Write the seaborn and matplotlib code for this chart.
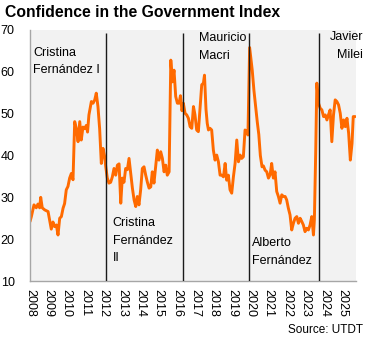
import matplotlib
matplotlib.use("Agg")
import matplotlib.pyplot as plt
import seaborn as sns
import pandas as pd
import numpy as np

title = "Confidence in the Government Index"
source = "Source: UTDT"
years = list(range(2008, 2026))
y_ticks = [10, 20, 30, 40, 50, 60, 70]

# months since Jan 2008 and index value
month_offset = [
    0.0, 0.9, 2.6, 4.1, 5.2, 6.3, 7.0, 8.0, 9.6, 11.8, 12.8, 13.9, 15.0, 16.1, 17.2,
    18.3, 19.4, 20.5, 21.6, 22.6, 23.7, 24.8, 25.9, 27.0, 28.1, 29.2, 30.3, 31.4,
    32.5, 33.5, 34.6, 35.7, 36.8, 37.6, 38.5, 40.1, 41.2, 42.3, 43.3, 44.4, 45.5,
    46.6, 47.7, 48.8, 49.5, 50.5, 51.6, 52.7, 53.8, 54.9, 56.0, 57.1, 58.2, 59.3,
    60.3, 61.4, 62.5, 63.6, 64.7, 65.8, 66.9, 68.0, 69.1, 70.1, 71.2, 72.3, 73.4,
    74.5, 75.6, 76.7, 77.8, 78.9, 79.9, 81.0, 82.1, 83.2, 84.3, 85.4, 86.5, 87.6,
    88.7, 89.7, 90.9, 92.0, 93.0, 94.1, 95.2, 96.3, 97.4, 98.3, 99.3, 100.2, 101.3,
    102.4, 103.5, 104.6, 105.7, 106.8, 107.8, 108.9, 110.0, 111.1, 112.2, 113.3,
    114.0, 115.0, 115.8, 116.6, 117.6, 118.7, 119.8, 120.9, 122.0, 123.1, 124.2,
    125.3, 126.4, 127.5, 128.5, 129.6, 130.7, 131.8, 132.9, 134.0, 135.1, 136.2,
    137.3, 138.3, 139.4, 140.5, 141.6, 142.4, 143.5, 145.2, 146.3, 147.4, 148.5,
    149.5, 150.5, 151.6, 152.5, 153.6, 154.7, 155.8, 156.9, 157.9, 159.0, 160.1,
    161.2, 162.3, 163.4, 164.5, 165.6, 166.7, 167.7, 168.8, 169.9, 171.0, 172.1,
    173.2, 174.3, 175.4, 176.5, 177.6, 178.6, 179.7, 180.8, 181.9, 183.0, 184.1,
    185.2, 185.8, 186.7, 187.4, 188.5, 189.6, 190.7, 191.8, 192.9, 194.0, 195.0,
    196.1, 197.2, 198.3, 199.4, 200.5, 201.6, 202.7, 203.8, 204.9, 206.0, 207.1,
    208.2, 209.3, 210.4, 211.2, 212.5,
]
index_values = [
    24.2, 25.4, 28.2, 27.5, 28.4, 27.5, 30.0, 27.5, 27.0, 26.6, 24.6, 22.4, 24.1, 23.0, 23.4,
    21.0, 25.0, 25.4, 27.4, 28.5, 31.8, 32.6, 34.6, 35.7, 34.2, 48.1, 46.4, 43.3,
    48.1, 43.7, 46.8, 46.4, 47.2, 45.6, 49.7, 52.9, 52.5, 53.3, 54.9, 51.7, 46.4,
    38.1, 41.7, 39.7, 37.3, 34.6, 33.4, 33.6, 34.9, 36.9, 35.3, 37.7, 38.0, 28.6,
    34.6, 33.6, 36.9, 36.6, 39.3, 35.8, 32.2, 29.4, 27.8, 30.2, 28.2, 31.8, 36.9,
    37.3, 35.3, 33.6, 32.2, 32.5, 36.1, 33.4, 37.3, 41.3, 38.9, 40.9, 39.3, 36.1,
    37.7, 35.3, 36.1, 62.8, 57.6, 60.4, 54.1, 52.5, 52.5, 54.3, 50.7, 52.5, 50.1,
    49.7, 48.9, 46.9, 46.5, 51.7, 49.7, 46.1, 45.7, 51.3, 56.9, 57.3,
    59.2, 51.0, 47.7, 46.1, 46.5, 46.1, 41.3, 38.9, 40.1, 38.5, 35.3,
    35.3, 34.9, 38.1, 34.1, 35.3, 31.8, 31.0, 34.9, 38.1, 43.7, 38.5,
    40.1, 39.3, 39.7, 46.1, 45.7, 44.9, 65.8, 60.4, 55.6, 51.7, 48.0,
    45.0, 40.0, 37.3, 37.5, 36.5, 36.1, 34.6, 35.4, 38.1, 34.6, 36.1,
    31.4, 30.2, 28.6, 30.6, 30.2, 30.2, 29.4, 27.4, 25.8, 22.2, 23.8,
    25.0, 25.4, 23.8, 25.0, 24.2, 23.4, 21.8, 22.6, 22.2, 23.4, 25.4,
    21.0, 24.6, 41.3, 57.3, 52.5, 51.3, 50.9, 49.3, 49.7, 48.5, 49.7,
    50.9, 43.3, 49.7, 53.3, 52.9, 52.1, 50.1, 46.5, 48.5, 46.9, 48.9,
    45.3, 38.9, 42.9, 49.3, 49.3,
]

# start of each presidency (decimal year) and labels
term_starts = [2012.14, 2016.35, 2019.93, 2023.72]
term_labels = ["Cristina\nFernández I", "Cristina\nFernández\nII", "Mauricio\nMacri",
               "Alberto\nFernández", "Javier\nMilei"]

sns.set_theme(style="white")
plt.rcParams["font.family"] = ["Liberation Sans", "DejaVu Sans"]

df = pd.DataFrame({"date": 2008 + np.array(month_offset) / 12.0, "value": index_values})

W, H = 375, 342
fig = plt.figure(figsize=(W / 100, H / 100), dpi=100)
ax = fig.add_axes([30 / W, 1 - 281 / H, 326 / W, 251 / H])
ax.set_facecolor("#f2f2f2")

sns.lineplot(data=df, x="date", y="value", color="#ff6a00", linewidth=2.1, ax=ax, zorder=2)
ax.vlines(term_starts, 10, 69.4, colors="#1a1a1a", linewidth=1.0, zorder=3)

ax.set_xlim(2008, 2008 + 213 / 12.0)
ax.set_ylim(y_ticks[0], y_ticks[-1])
ax.set_xticks(years)
ax.set_xticklabels([str(y) for y in years], rotation=-90, fontsize=9, color="black")
ax.set_yticks(y_ticks)
ax.set_yticklabels([str(v) for v in y_ticks], fontsize=9, color="black")
ax.tick_params(axis="both", length=0)
ax.tick_params(axis="x", pad=6)
ax.tick_params(axis="y", pad=11)
ax.set_xlabel("")
ax.set_ylabel("")
for s in ["top", "right"]:
    ax.spines[s].set_visible(False)
for s in ["left", "bottom"]:
    ax.spines[s].set_color("#a6a6a6")
    ax.spines[s].set_linewidth(1.0)

# va="baseline" anchors the last line of a multi-line label
ls = 1.6
kw = dict(fontsize=9, color="black", va="baseline", linespacing=ls, zorder=4)
ax.text(2008.16, 59.7, term_labels[0], ha="left", **kw)
ax.text(2012.50, 14.8, term_labels[1], ha="left", **kw)
ax.text(2017.22, 63.1, term_labels[2], ha="left", **kw)
ax.text(2020.09, 14.1, term_labels[3], ha="left", **kw)
ax.text(2026.14, 63.4, term_labels[4], ha="right", multialignment="right", **kw)

fig.text(5 / W, 1 - 17 / H, title, fontsize=11.3, fontweight="bold", color="black",
         ha="left", va="baseline")
fig.text(363 / W, 1 - 333 / H, source, fontsize=8.5, color="black", ha="right", va="baseline")

fig.savefig("out.png", dpi=100)
